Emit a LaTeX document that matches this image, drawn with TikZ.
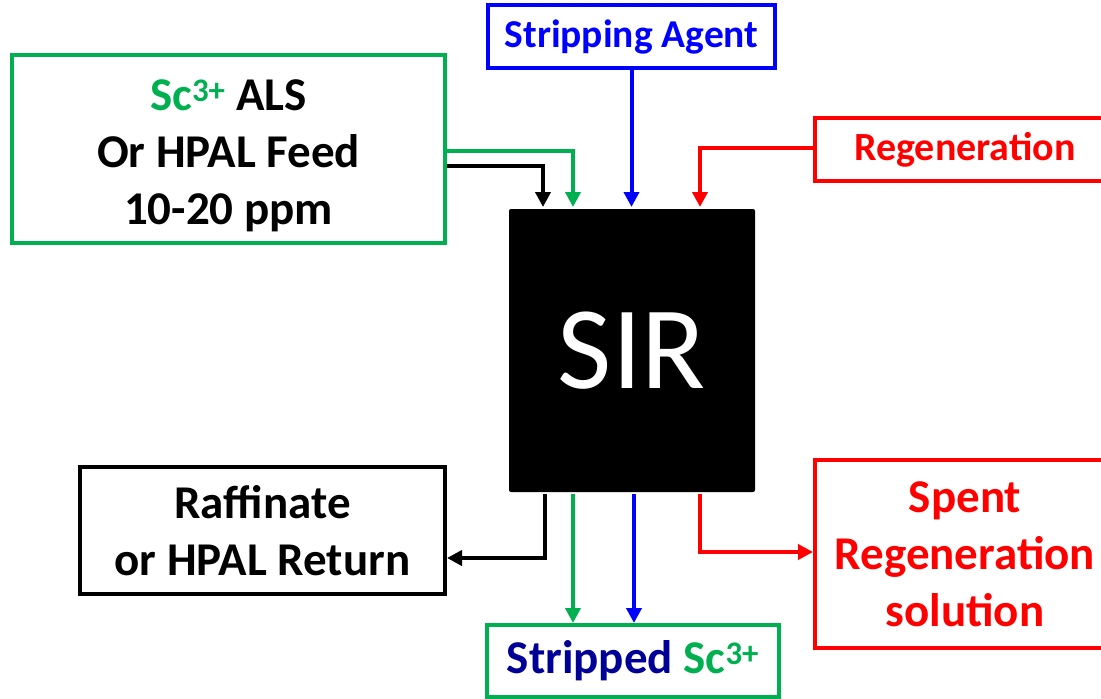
\documentclass[tikz,border=0pt]{standalone}
\usepackage{fontspec}
\setmainfont{Carlito}
\usetikzlibrary{arrows.meta}

\definecolor{scgreen}{RGB}{0,176,80}
\definecolor{scblue}{RGB}{0,0,255}
\definecolor{scred}{RGB}{255,0,0}
\definecolor{scnavy}{RGB}{0,0,150}

\tikzset{
  every picture/.style={line width=4pt},
  flowbox/.style={draw, line width=4pt, inner sep=0pt, align=center, font=\bfseries},
  flow/.style={line width=4pt, -{Triangle[length=15pt,width=15pt]}},
}

\begin{document}
\begin{tikzpicture}[x=1pt,y=1pt,yscale=-1,xscale=1]
	\useasboundingbox (0,0) rectangle (1101,699);
	
	% Boxes
	\node (feed) at (228.5,149) [flowbox, scgreen, minimum width=433pt, minimum height=188pt,
	  text=black, font=\bfseries\fontsize{47}{57}\selectfont]
	  {\rule{0pt}{44pt}{\color{scgreen}Sc\textsuperscript{3+}} ALS\\Or HPAL Feed\\10-20 ppm};
	\node (agent) at (631.5,36.5) [flowbox, scblue, minimum width=287pt, minimum height=63pt,
	  font=\bfseries\fontsize{39.5}{44}\selectfont] {Stripping Agent};
	\node (regen) at (965,149.5) [flowbox, scred, minimum width=300pt, minimum height=63pt,
	  font=\bfseries\fontsize{40}{44}\selectfont] {Regeneration};
	\node (sir) at (632,350.5) [fill=black, rounded corners=2pt, minimum width=246pt, minimum height=283pt,
	  inner sep=0pt, text=white, font=\fontsize{118}{130}\selectfont] {SIR};
	\node (raff) at (262.5,530.5) [flowbox, black, minimum width=365pt, minimum height=127pt,
	  font=\bfseries\fontsize{47}{57}\selectfont] {Raffinate\\or HPAL Return};
	\node (spent) at (965,554) [flowbox, scred, minimum width=300pt, minimum height=188pt,
	  font=\bfseries\fontsize{47}{57}\selectfont] {Spent\\Regeneration\\solution};
	\node (stripped) at (633,661) [flowbox, scgreen, minimum width=292pt, minimum height=72pt,
	  text=scnavy, font=\bfseries\fontsize{47}{52}\selectfont]
	  {Stripped {\color{scgreen}Sc\textsuperscript{3+}}};
	
	% Inputs
	\draw [flow, scgreen] ([yshift=2pt]feed.east) -| ([xshift=-59pt]sir.north);
	\draw [flow, black] ([yshift=17pt]feed.east) -| ([xshift=-89pt]sir.north);
	\draw [flow, scblue] (agent.south) -- (agent.south |- sir.north);
	\draw [flow, scred] ([yshift=-1.5pt]regen.west) -| ([xshift=68pt]sir.north);
	
	% Outputs
	\draw [flow, black] ([xshift=-87pt]sir.south) |- ([yshift=27.5pt]raff.east);
	\draw [flow, scgreen] ([xshift=-59pt]sir.south) -- ([xshift=-59pt]sir.south |- stripped.north);
	\draw [flow, scblue] ([xshift=2pt]sir.south) -- ([xshift=2pt]sir.south |- stripped.north);
	\draw [flow, scred] ([xshift=68pt]sir.south) |- ([yshift=-2pt]spent.west);
	
\end{tikzpicture}
\end{document}
